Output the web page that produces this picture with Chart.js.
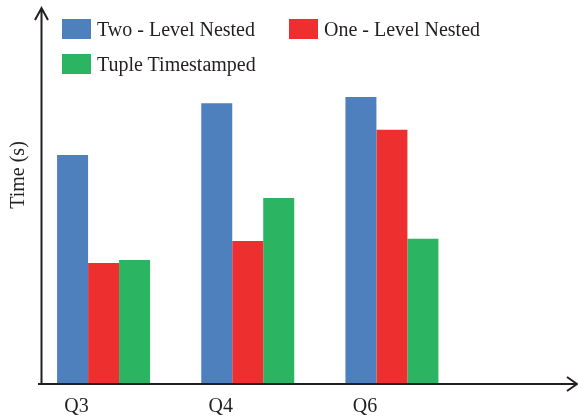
<!DOCTYPE html>
<html>
<head>
<meta charset="utf-8">
<script src="https://cdn.jsdelivr.net/npm/chart.js@4"></script>
<style>
  body { margin: 0; background: #fff; }
  #wrap { position: relative; width: 578px; height: 419px; }
  #legend {
    position: absolute; left: 62px; top: 19px;
    display: grid; grid-template-columns: 227px 227px; row-gap: 15px;
    font-family: "Liberation Serif", serif; font-size: 20px; color: #231f20;
  }
  #legend .item { display: flex; align-items: center; height: 20px; white-space: nowrap; }
  #legend .box { width: 29px; height: 20px; margin-right: 6px; }
</style>
</head>
<body>
<div id="wrap">
  <canvas id="chart"></canvas>
  <div id="legend"></div>
</div>
<script>
const categories = ['Q3', 'Q4', 'Q6'];
const seriesNames = ['Two - Level Nested', 'One - Level Nested', 'Tuple Timestamped'];
const twoLevelNested = [60.9, 74.7, 76.3];
const oneLevelNested = [32.2, 38.0, 67.6];
const tupleTimestamped = [33.0, 49.5, 38.6];
const yTitle = 'Time (s)';

const colors = ['#4d80bd', '#ee2f2f', '#2bb462'];
const fontFamily = '"Liberation Serif", serif';
const ink = '#231f20';

// axes with arrow heads + rotated y title
const axesPlugin = {
    id: 'arrowAxes',
    afterDatasetsDraw(chart) {
        const ctx = chart.ctx;
        const area = chart.chartArea;
        const yBase = chart.scales.y.getPixelForValue(0);
        const xLeft = 41.5;
        ctx.save();
        ctx.strokeStyle = ink;
        ctx.lineWidth = 2;
        ctx.beginPath();
        ctx.moveTo(xLeft, yBase + 1);
        ctx.lineTo(xLeft, area.top);
        ctx.moveTo(xLeft - 6.5, area.top + 12);
        ctx.lineTo(xLeft, area.top);
        ctx.lineTo(xLeft + 6.5, area.top + 12);
        ctx.moveTo(38, yBase);
        ctx.lineTo(chart.width - 1, yBase);
        ctx.moveTo(chart.width - 11, yBase - 7);
        ctx.lineTo(chart.width - 1, yBase);
        ctx.lineTo(chart.width - 11, yBase + 7);
        ctx.stroke();

        ctx.translate(19, 175);
        ctx.rotate(-Math.PI / 2);
        ctx.fillStyle = ink;
        ctx.font = '20px ' + fontFamily;
        ctx.textAlign = 'center';
        ctx.textBaseline = 'middle';
        ctx.fillText(yTitle, 0, 0);
        ctx.restore();
    }
};

const data = {
    labels: categories,
    datasets: [
        { label: seriesNames[0], data: twoLevelNested, backgroundColor: colors[0] },
        { label: seriesNames[1], data: oneLevelNested, backgroundColor: colors[1] },
        { label: seriesNames[2], data: tupleTimestamped, backgroundColor: colors[2] }
    ]
};

const config = {
    type: 'bar',
    data: data,
    options: {
        responsive: true,
        maintainAspectRatio: false,
        animation: false,
        datasets: {
            bar: { categoryPercentage: 0.645, barPercentage: 1 }
        },
        layout: {
            padding: { left: 31.5, right: 114, top: 8, bottom: 0 }
        },
        plugins: {
            legend: { display: false },
            tooltip: { enabled: false }
        },
        scales: {
            x: {
                grid: { display: false, drawTicks: false },
                border: { display: false },
                afterFit: function (scale) { scale.height = 35; },
                ticks: {
                    padding: 13,
                    labelOffset: -27,
                    color: ink,
                    font: { family: fontFamily, size: 20, lineHeight: 1 }
                }
            },
            y: {
                display: false,
                min: 0,
                max: 100
            }
        }
    },
    plugins: [axesPlugin]
};

const chart = new Chart(document.getElementById('chart'), config);

// html legend built from the datasets
const legendEl = document.getElementById('legend');
chart.data.datasets.forEach(function (ds) {
    const item = document.createElement('div');
    item.className = 'item';
    const box = document.createElement('span');
    box.className = 'box';
    box.style.background = ds.backgroundColor;
    const txt = document.createElement('span');
    txt.textContent = ds.label;
    item.appendChild(box);
    item.appendChild(txt);
    legendEl.appendChild(item);
});
</script>
</body>
</html>
